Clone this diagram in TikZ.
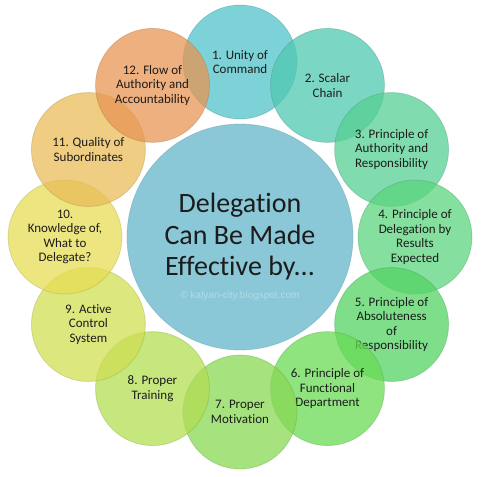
\documentclass[tikz,border=0pt]{standalone}
\usepackage{fontspec}
\setmainfont[Ligatures={NoCommon,NoDiscretionary}]{Carlito}
\newfontfamily\wmfont{Liberation Sans}
\definecolor{cA}{RGB}{81,195,201}
\definecolor{cB}{RGB}{80,200,176}
\definecolor{cC}{RGB}{85,208,147}
\definecolor{cD}{RGB}{92,212,125}
\definecolor{cE}{RGB}{83,211,99}
\definecolor{cF}{RGB}{105,219,85}
\definecolor{cG}{RGB}{136,216,83}
\definecolor{cH}{RGB}{179,221,83}
\definecolor{cI}{RGB}{208,223,83}
\definecolor{cJ}{RGB}{231,221,85}
\definecolor{cK}{RGB}{233,188,88}
\definecolor{cL}{RGB}{232,149,83}
\definecolor{cM}{RGB}{138,200,216}
\definecolor{txt}{RGB}{28,28,28}
\tikzset{
  petal/.style={circle, minimum size=114bp, inner sep=0pt, fill=#1, fill opacity=0.75,
    text opacity=1, draw=#1!70!black, draw opacity=0.3, line width=0.8bp,
    align=center, text=txt, font=\fontsize{13bp}{14.5bp}\selectfont},
  hub/.style={circle, minimum size=226bp, inner sep=0pt, fill=cM, draw=cM!80!black,
    draw opacity=0.4, line width=0.8bp, align=center, text=txt,
    font=\fontsize{28bp}{31.5bp}\selectfont},
  wmark/.style={font=\wmfont\fontsize{10bp}{12bp}\selectfont, text=white, text opacity=0.35}
}
\begin{document}
\begin{tikzpicture}[x=1bp,y=-1bp]
\useasboundingbox (0,0) rectangle (483,477);
\node[hub] (center) at (240,237) {Delegation\\Can Be Made\\Effective by...};
\node[wmark] (wm) at (240,296) {© kalyan-city.blogspot.com};
\node[petal=cA] (c1) at (240,62) {1. Unity of\\Command};
\node[petal=cB] (c2) at (327.5,85.4) {2. Scalar\\Chain};
\node[petal=cC] (c3) at (391.6,149.5) {3. Principle of\\Authority and\\Responsibility};
\node[petal=cD] (c4) at (415,237) {4. Principle of\\Delegation by\\Results\\Expected};
\node[petal=cE] (c5) at (391.6,324.5) {5. Principle of\\Absoluteness\\of\\Responsibility};
\node[petal=cF] (c6) at (327.5,388.6) {6. Principle of\\Functional\\Department};
\node[petal=cG] (c7) at (240,412) {7. Proper\\Motivation};
\node[petal=cH] (c8) at (152.5,388.6) {8. Proper\\Training};
\node[petal=cI] (c9) at (88.4,324.5) {9. Active\\Control\\System};
\node[petal=cJ] (c10) at (65,237) {10.\\Knowledge of,\\What to\\Delegate?};
\node[petal=cK] (c11) at (88.4,149.5) {11. Quality of\\Subordinates};
\node[petal=cL] (c12) at (152.5,85.4) {12. Flow of\\Authority and\\Accountability};
\end{tikzpicture}
\end{document}
